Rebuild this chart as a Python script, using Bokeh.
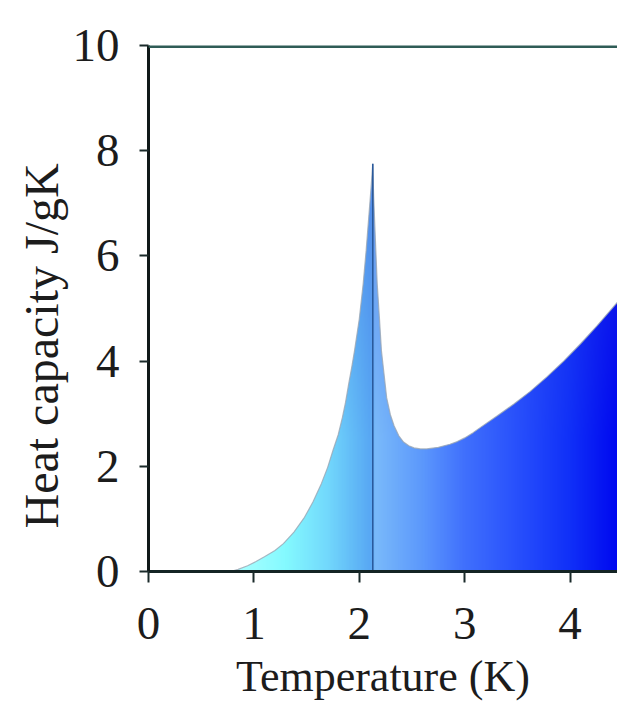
import numpy as np
from bokeh.plotting import figure
from bokeh.models import Range1d, FixedTicker, Span, Title
from bokeh.embed import file_html
from bokeh.resources import INLINE

# ---- data ----
temperature = [0.78, 0.85, 0.94, 1.02, 1.10, 1.20, 1.28, 1.38, 1.48, 1.56,
               1.64, 1.70, 1.75, 1.80, 1.84, 1.87, 1.90, 1.93, 1.955, 2.00,
               2.037, 2.065, 2.09, 2.11, 2.128,
               2.136, 2.144, 2.157, 2.17, 2.19, 2.21, 2.235, 2.26, 2.295, 2.33,
               2.375, 2.42, 2.47, 2.52, 2.58, 2.64, 2.75, 2.86, 2.93, 3.00,
               3.08, 3.15, 3.31, 3.47, 3.62, 3.78, 3.94, 4.10, 4.26, 4.45]
heat_capacity = [0.0, 0.04, 0.11, 0.19, 0.28, 0.40, 0.53, 0.75, 1.03, 1.32,
                 1.67, 1.98, 2.30, 2.60, 2.93, 3.22, 3.57, 3.90, 4.20, 4.80,
                 5.47, 6.10, 6.74, 7.25, 7.75,
                 7.15, 6.74, 6.10, 5.47, 4.85, 4.20, 3.75, 3.30, 2.98, 2.77,
                 2.58, 2.46, 2.39, 2.35, 2.33, 2.33, 2.36, 2.42, 2.47, 2.54,
                 2.64, 2.74, 2.96, 3.19, 3.42, 3.70, 4.00, 4.33, 4.68, 5.12]
x_ticks = [0, 1, 2, 3, 4]
y_ticks = [0, 2, 4, 6, 8, 10]
x_label = "Temperature (K)"
y_label = "Heat capacity J/gK"

FONT = "Liberation Serif"
TXT = "#1c1c1c"

T = np.array(temperature)
C = np.array(heat_capacity)
i_peak = int(np.argmax(C))
T_lambda = T[i_peak]
C_peak = C[i_peak]

p = figure(width=617, height=703, x_range=Range1d(0, 4.45), y_range=Range1d(0, 10),
           output_backend="svg", toolbar_location=None,
           min_border_left=148, min_border_right=0, min_border_top=45, min_border_bottom=132)
p.grid.visible = False
p.outline_line_color = None
p.background_fill_color = "white"
p.border_fill_color = "white"

# ---- gradient fill (colour band), then masked above the curve ----
stops_x = [T[1], 1.3, 1.7, 2.1, 2.15, 2.6, 3.0, 3.5, 4.0, T.max()]
stops_rgb = np.array([[0xa8, 0xff, 0xff], [0x84, 0xfa, 0xff], [0x72, 0xd8, 0xfc],
                      [0x58, 0xa8, 0xf4], [0x7a, 0xba, 0xfa], [0x5c, 0x98, 0xfc],
                      [0x40, 0x70, 0xfc], [0x28, 0x50, 0xfc], [0x10, 0x30, 0xf8],
                      [0x00, 0x08, 0xf0]], dtype=float)
nx, ny = 480, 300
gx = np.linspace(T[1], T.max(), nx)
gy = np.linspace(0, C_peak, ny)
cols = np.stack([np.interp(gx, stops_x, stops_rgb[:, k]) for k in range(3)], axis=1)
tint = np.clip((gy - 2.5) / 5.5, 0, 1)[:, None, None] * 0.35
top_col = np.array([0x40, 0x50, 0xd8], dtype=float)
rgb = cols[None, :, :] * (1 - tint) + top_col[None, None, :] * tint
img = np.empty((ny, nx), dtype=np.uint32)
view = img.view(dtype=np.uint8).reshape((ny, nx, 4))
view[:, :, :3] = rgb.astype(np.uint8)
view[:, :, 3] = 255
p.image_rgba(image=[img], x=T[1], y=0, dw=T.max() - T[1], dh=C_peak)

p.varea(x=T, y1=C, y2=10, fill_color="white")
p.line(T, C, line_color="#9aa6b4", line_width=1.2, line_alpha=0.8)
p.segment(x0=[T_lambda], y0=[0], x1=[T_lambda], y1=[C_peak], line_color="#2a5a9c", line_width=1.6)

p.add_layout(Span(location=y_ticks[-1], dimension="width", line_color="#2f5c56", line_width=5))

# ---- axes ----
xa = p.xaxis[0]
xa.ticker = FixedTicker(ticks=x_ticks)
xa.major_label_text_font = FONT
xa.major_label_text_font_size = "47px"
xa.major_label_text_color = TXT
xa.major_label_standoff = 25
xa.major_tick_out = 11
xa.major_tick_in = 0
xa.major_tick_line_width = 2
xa.major_tick_line_color = "#1a2a2a"
xa.minor_tick_line_color = None
xa.axis_line_width = 3
xa.axis_line_color = "#142424"
xa.axis_label = x_label
xa.axis_label_text_font = FONT
xa.axis_label_text_font_size = "44px"
xa.axis_label_text_font_style = "normal"
xa.axis_label_text_color = TXT
xa.axis_label_standoff = 10

ya = p.yaxis[0]
ya.ticker = FixedTicker(ticks=y_ticks)
ya.major_label_text_font = FONT
ya.major_label_text_font_size = "47px"
ya.major_label_text_color = TXT
ya.major_label_standoff = 20
ya.major_tick_out = 9
ya.major_tick_in = 0
ya.major_tick_line_width = 2
ya.major_tick_line_color = "#1a2a2a"
ya.minor_tick_line_color = None
ya.axis_line_width = 3
ya.axis_line_color = "#101818"

p.add_layout(Title(text=y_label, align="left", offset=43, standoff=4,
                   text_font=FONT, text_font_size="48px", text_font_style="normal",
                   text_color=TXT), "left")

open("out.html", "w").write(file_html(p, INLINE))
